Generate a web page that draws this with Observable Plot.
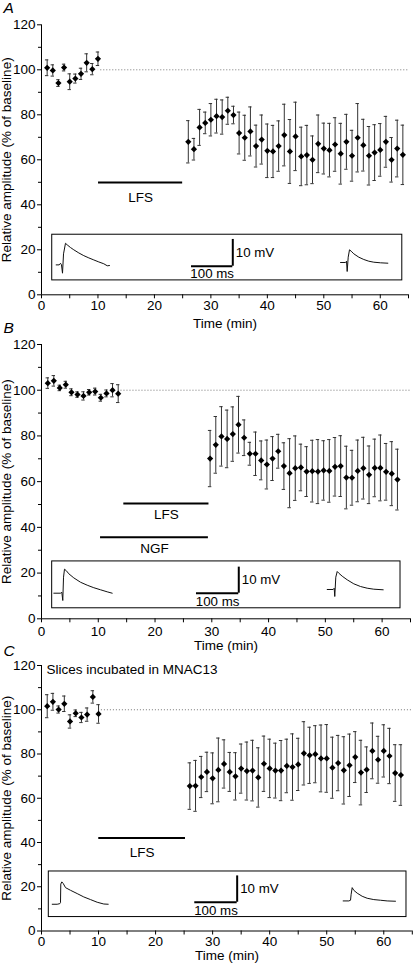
<!DOCTYPE html>
<html>
<head>
<meta charset="utf-8">
<script src="https://cdn.jsdelivr.net/npm/d3@7"></script>
<script src="https://cdn.jsdelivr.net/npm/@observablehq/plot@0.6"></script>
<style>
  body { margin: 0; background: #fff; }
  #chart { position: relative; width: 413px; height: 963px; overflow: hidden; background: #fff; }
  #chart svg { position: absolute; left: 0; overflow: visible; }
</style>
</head>
<body>
<div id="chart"></div>
<script>
// ---------- shared axis ticks / labels ----------
const yMajor = [0, 20, 40, 60, 80, 100, 120];
const yMinor = [10, 30, 50, 70, 90, 110];
const xMajor = [0, 10, 20, 30, 40, 50, 60];
const xMinor = [5, 15, 25, 35, 45, 55, 65];
const yLabel = "Relative amplitude (% of baseline)";
const xLabel = "Time (min)";
const baselineLevel = 100;

// ---------- Panel A ----------
const tBaseA = [1, 2, 3, 4, 5, 6, 7, 8, 9, 10];
const vBaseA = [100.9, 99.7, 94.1, 101.0, 94.7, 96.1, 98.2, 103.1, 100.3, 104.9];
const eBaseA = [3.5, 2.5, 1.5, 1.5, 3.5, 2.0, 2.5, 4.0, 2.5, 3.0];
const tPostA = [26, 27, 28, 29, 30, 31, 32, 33, 34, 35, 36, 37, 38, 39, 40, 41, 42, 43, 44, 45,
                46, 47, 48, 49, 50, 51, 52, 53, 54, 55, 56, 57, 58, 59, 60, 61, 62, 63, 64];
const vPostA = [68.0, 64.7, 74.4, 76.4, 77.8, 79.4, 79.0, 81.8, 79.9, 71.9, 69.8, 72.6, 66.1, 69.0, 64.0,
                63.7, 66.1, 71.0, 63.7, 70.4, 61.5, 62.1, 60.0, 67.1, 65.0, 64.3, 66.8, 62.7, 68.0, 61.8,
                69.8, 66.5, 61.8, 63.2, 64.4, 68.0, 60.0, 65.0, 62.2];
const ePostA = [9.4, 4.8, 8.0, 4.8, 7.2, 7.5, 7.6, 6.0, 3.9, 9.3, 10.0, 10.9, 9.3, 10.9, 11.9,
                11.6, 11.2, 13.7, 14.2, 15.2, 13.0, 13.2, 10.6, 12.8, 11.3, 11.9, 11.9, 13.5, 12.2, 11.3,
                15.2, 11.5, 13.0, 12.4, 11.7, 11.3, 9.9, 12.6, 13.2];
const barLabelsA = ["LFS"];
const barStartA = [10.1];
const barEndA = [25.0];
const barLevelA = [49.9];
const insetA = {x1: 1.9, x2: 63.9, y1: 6.4, y2: 26.7};
const scaleBarA = {x1: 26.57, x2: 33.88, y1: 12.7, y2: 24.6};
const trace1xA = [2.60, 3.13, 3.37, 3.54, 3.72, 3.90, 4.25, 4.55, 5.14, 5.72, 6.61, 7.49, 8.38, 9.26, 10.15, 11.03, 11.64, 12.04];
const trace1yA = [13.3, 13.3, 14.0, 13.3, 9.6, 18.2, 22.9, 22.2, 21.0, 20.0, 18.6, 17.4, 16.4, 15.5, 14.6, 13.8, 12.9, 13.0];
const trace2xA = [52.96, 53.84, 54.02, 54.14, 54.32, 54.55, 54.85, 55.31, 56.20, 57.08, 57.97, 58.85, 60.04, 61.34];
const trace2yA = [14.36, 14.36, 14.93, 10.36, 16.71, 20.0, 19.38, 18.22, 16.71, 15.69, 14.93, 14.49, 14.22, 14.04];

// ---------- Panel B ----------
const tBaseB = [1.11, 2.17, 3.22, 4.28, 5.28, 6.34, 7.40, 8.40, 9.46, 10.45, 11.45, 12.51, 13.51];
const vBaseB = [103.1, 104.1, 101.0, 102.4, 99.1, 98.1, 97.5, 99.1, 99.4, 96.7, 98.6, 100.0, 98.5];
const eBaseB = [2.3, 2.3, 1.2, 1.5, 1.5, 1.2, 1.8, 1.2, 1.5, 1.5, 1.5, 2.9, 3.9];
const tPostB = [29.7, 30.7, 31.7, 32.7, 33.7, 34.7, 35.7, 36.7, 37.7, 38.7, 39.7, 40.7, 41.7, 42.7, 43.7, 44.7, 45.7,
                46.7, 47.7, 48.7, 49.7, 50.7, 51.7, 52.7, 53.7, 54.7, 55.7, 56.7, 57.7, 58.7, 59.7, 60.7, 61.7, 62.7];
const vPostB = [70.1, 76.1, 79.8, 78.7, 80.8, 84.9, 79.2, 72.2, 72.2, 69.3, 67.5, 70.1, 73.3, 66.8, 63.7, 65.9, 66.2,
                64.4, 64.6, 64.4, 64.9, 64.7, 66.5, 66.8, 61.8, 61.7, 64.7, 65.9, 63.0, 66.0, 66.0, 64.3, 63.5, 60.9];
const ePostB = [12.3, 12.4, 13.0, 12.6, 11.9, 12.4, 7.8, 5.0, 9.5, 8.5, 10.7, 9.6, 7.4, 10.2, 15.1, 14.1, 10.2,
                10.9, 13.5, 14.0, 13.0, 13.7, 12.8, 13.3, 13.7, 12.0, 13.5, 13.5, 12.6, 12.6, 14.4, 12.4, 14.0, 13.3];
const barLabelsB = ["LFS", "NGF"];
const barStartB = [14.5, 10.4];
const barEndB = [29.5, 29.4];
const barLevelB = [50.4, 35.7];
const insetB = {x1: 1.88, x2: 63.24, y1: 4.6, y2: 25.1};
const scaleBarB = {x1: 27.30, x2: 34.75, y1: 11.2, y2: 22.6};
const trace1xB = [2.17, 3.35, 3.58, 3.75, 3.88, 4.05, 4.35, 4.81, 5.69, 6.87, 8.05, 9.21, 10.39, 11.57, 12.45];
const trace1yB = [11.2, 11.2, 11.6, 8.0, 18.2, 21.7, 21.1, 19.7, 17.9, 16.0, 14.7, 13.6, 12.7, 11.8, 11.2];
const trace2xB = [50.33, 51.38, 51.56, 51.66, 51.84, 52.09, 52.37, 52.97, 53.85, 55.01, 56.19, 57.37, 58.53, 60.19];
const trace2yB = [12.82, 12.82, 13.39, 9.76, 18.2, 20.69, 19.95, 18.64, 17.06, 15.31, 14.13, 13.39, 12.95, 12.69];

// ---------- Panel C ----------
const tBaseC = [1, 2, 3, 4, 5, 6, 7, 8, 9, 10];
const vBaseC = [101.6, 103.6, 100.1, 102.7, 94.7, 98.4, 96.5, 97.8, 105.8, 98.1];
const eBaseC = [5.2, 3.8, 1.6, 3.5, 3.0, 1.5, 2.3, 3.0, 2.8, 4.2];
const tPostC = [26, 27, 28, 29, 30, 31, 32, 33, 34, 35, 36, 37, 38, 39, 40, 41, 42, 43, 44,
                45, 46, 47, 48, 49, 50, 51, 52, 53, 54, 55, 56, 57, 58, 59, 60, 61, 62, 63];
const vPostC = [65.5, 65.6, 69.6, 71.9, 69.0, 72.8, 75.5, 71.9, 69.9, 73.4, 72.3, 72.5, 69.4, 75.6, 73.5, 72.5, 72.5, 74.6, 74.1,
                75.3, 80.3, 79.4, 79.9, 78.0, 78.0, 73.8, 75.9, 72.6, 74.9, 78.6, 71.6, 72.9, 81.4, 77.4, 81.4, 79.1, 71.4, 70.5];
const ePostC = [10.5, 11.5, 9.3, 8.9, 11.5, 14.4, 10.9, 8.8, 10.7, 11.1, 13.1, 13.7, 13.4, 12.5, 13.2, 12.4, 13.6, 12.1, 15.0,
                11.8, 14.3, 12.7, 12.9, 15.1, 15.3, 13.8, 12.5, 15.2, 14.1, 11.5, 14.6, 10.3, 12.6, 10.6, 11.8, 12.5, 12.8, 13.7];
const barLabelsC = ["LFS"];
const barStartC = [10.04];
const barEndC = [25.24];
const barLevelC = [42.0];
const noteC = "Slices incubated in MNAC13";
const insetC = {x1: 1.28, x2: 63.98, y1: 6.3, y2: 26.9};
const scaleBarC = {x1: 26.87, x2: 34.30, y1: 13.0, y2: 24.9};
const trace1xC = [1.88, 2.75, 3.21, 3.33, 3.38, 3.56, 3.80, 4.21, 5.08, 6.26, 7.41, 8.59, 9.76, 10.92, 11.69];
const trace1yC = [12.09, 12.09, 12.36, 12.8, 21.2, 22.2, 21.5, 19.6, 18.4, 16.9, 15.4, 14.2, 13.0, 12.2, 12.09];
const trace2xC = [52.88, 53.87, 54.17, 54.28, 54.46, 54.74, 55.34, 56.21, 57.09, 58.25, 59.42, 60.60, 62.05];
const trace2yC = [13.59, 13.59, 13.9, 16.6, 19.6, 18.4, 17.1, 15.7, 14.8, 14.2, 13.9, 13.59, 13.45];

const mvLabel = "10 mV";
const msLabel = "100 ms";

// ---------- drawing ----------
const FONT = "'Liberation Sans', Arial, Helvetica, sans-serif";
const FS = 13.5;
const chart = document.getElementById("chart");

const rows = (t, v, e) => t.map((d, i) => ({t: d, v: v[i], e: e[i]}));
const pts = (x, y) => x.map((d, i) => ({x: d, y: y[i]}));

function panel(p) {
  const all = rows(p.tBase, p.vBase, p.eBase).concat(rows(p.tPost, p.vPost, p.ePost));
  const bars = p.barLabels.map((l, i) => ({label: l, x1: p.barStart[i], x2: p.barEnd[i], y: p.barLevel[i]}));
  const sb = p.scaleBar;
  const cap = 0.3;
  const marks = [
    // inset
    Plot.rect([p.inset], {x1: "x1", x2: "x2", y1: "y1", y2: "y2", fill: "none", stroke: "#000", strokeWidth: 1}),
    Plot.line(pts(p.tr1x, p.tr1y), {x: "x", y: "y", stroke: "#111", strokeWidth: 1}),
    Plot.line(pts(p.tr2x, p.tr2y), {x: "x", y: "y", stroke: "#111", strokeWidth: 1}),
    Plot.ruleY([sb], {y: "y1", x1: "x1", x2: "x2", stroke: "#000", strokeWidth: 2}),
    Plot.ruleX([sb], {x: "x2", y1: "y1", y2: "y2", stroke: "#000", strokeWidth: 2}),
    Plot.text([sb], {x: "x2", y: d => (d.y1 + d.y2) / 2, text: () => mvLabel, dx: 3, textAnchor: "start", lineAnchor: "middle", fontSize: 13.3, fill: "#000"}),
    Plot.text([sb], {x: d => (d.x1 + d.x2) / 2, y: "y1", text: () => msLabel, dy: p.msDy, lineAnchor: "middle", fontSize: 13.3, fill: "#000"}),
    // baseline dotted
    Plot.ruleY([baselineLevel], {x1: p.dotStart, x2: 65, stroke: "#777", strokeDasharray: "1,2"}),
    // axes
    Plot.ruleX([0], {stroke: "#000"}),
    Plot.ruleY([0], {stroke: "#000"}),
    Plot.axisY(yMajor, {tickSize: 4, tickPadding: 2, fontSize: FS, label: null}),
    Plot.axisY(yMinor, {tickSize: 3, tickFormat: () => "", label: null}),
    Plot.axisX(xMajor, {tickSize: 4, tickPadding: p.xPad, fontSize: FS, label: null}),
    Plot.axisX(xMinor, {tickSize: 4, tickFormat: () => "", label: null}),
    Plot.text([yLabel], {text: d => d, frameAnchor: "left", dx: -35, rotate: -90, textAnchor: "middle", lineAnchor: "middle", fontSize: FS}),
    Plot.text([xLabel], {text: d => d, frameAnchor: "bottom", dy: p.timeDy, lineAnchor: "middle", fontSize: FS}),
    Plot.text([p.letter], {text: d => d, frameAnchor: "top-left", dx: -38, dy: p.letterDy, textAnchor: "start", lineAnchor: "bottom", fontSize: 15.5, fontStyle: "italic"}),
    // treatment bars
    Plot.ruleY(bars, {y: "y", x1: "x1", x2: "x2", stroke: "#000", strokeWidth: 2}),
    ...bars.map((b, i) => Plot.text([b], {x: d => (d.x1 + d.x2) / 2, y: "y", text: "label", dy: p.barDy[i], lineAnchor: "middle", fontSize: FS})),
    // error bars
    Plot.ruleX(all, {x: "t", y1: d => d.v - d.e, y2: d => d.v + d.e, stroke: "#333", strokeWidth: 1}),
    Plot.ruleY(all, {y: d => d.v + d.e, x1: d => d.t - cap, x2: d => d.t + cap, stroke: "#333", strokeWidth: 1}),
    Plot.ruleY(all, {y: d => d.v - d.e, x1: d => d.t - cap, x2: d => d.t + cap, stroke: "#333", strokeWidth: 1}),
    Plot.dot(all, {x: "t", y: "v", symbol: "diamond2", r: 2.8, fill: "#000", stroke: "none"})
  ];
  if (p.note) {
    marks.push(Plot.text([p.note], {text: d => d, x: p.noteX, y: p.noteY, textAnchor: "start", lineAnchor: "middle", fontSize: FS}));
  }
  const svg = Plot.plot({
    width: 413,
    height: p.height,
    marginTop: p.marginTop,
    marginBottom: p.marginBottom,
    marginLeft: 41,
    marginRight: p.marginRight,
    x: {domain: [0, 65], label: null},
    y: {domain: [0, 120], label: null},
    style: {fontFamily: FONT, fontSize: FS + "px", background: "transparent", overflow: "visible", color: "#000"},
    marks
  });
  svg.style.top = p.top + "px";
  chart.append(svg);
}

panel({
  letter: "A", top: 0, height: 340, marginTop: 24.3, marginBottom: 45.7, marginRight: 5,
  tBase: tBaseA, vBase: vBaseA, eBase: eBaseA, tPost: tPostA, vPost: vPostA, ePost: ePostA,
  barLabels: barLabelsA, barStart: barStartA, barEnd: barEndA, barLevel: barLevelA, barDy: [15],
  inset: insetA, scaleBar: scaleBarA, tr1x: trace1xA, tr1y: trace1yA, tr2x: trace2xA, tr2y: trace2yA,
  dotStart: 10.5, xPad: 2, timeDy: 29, letterDy: -11.3, msDy: 8
});
panel({
  letter: "B", top: 320, height: 340, marginTop: 24, marginBottom: 41.7, marginRight: 3,
  tBase: tBaseB, vBase: vBaseB, eBase: eBaseB, tPost: tPostB, vPost: vPostB, ePost: ePostB,
  barLabels: barLabelsB, barStart: barStartB, barEnd: barEndB, barLevel: barLevelB, barDy: [11, 11.5],
  inset: insetB, scaleBar: scaleBarB, tr1x: trace1xB, tr1y: trace1yB, tr2x: trace2xB, tr2y: trace2yB,
  dotStart: 14, xPad: 3.5, timeDy: 27, letterDy: -12, msDy: 9
});
panel({
  letter: "C", top: 640, height: 323, marginTop: 25, marginBottom: 32.5, marginRight: 1.2,
  tBase: tBaseC, vBase: vBaseC, eBase: eBaseC, tPost: tPostC, vPost: vPostC, ePost: ePostC,
  barLabels: barLabelsC, barStart: barStartC, barEnd: barEndC, barLevel: barLevelC, barDy: [15],
  inset: insetC, scaleBar: scaleBarC, tr1x: trace1xC, tr1y: trace1yC, tr2x: trace2xC, tr2y: trace2yC,
  note: noteC, noteX: 0.88, noteY: 118.2,
  dotStart: 10.5, xPad: 1, timeDy: 25, letterDy: -10, msDy: 8
});
</script>
</body>
</html>
